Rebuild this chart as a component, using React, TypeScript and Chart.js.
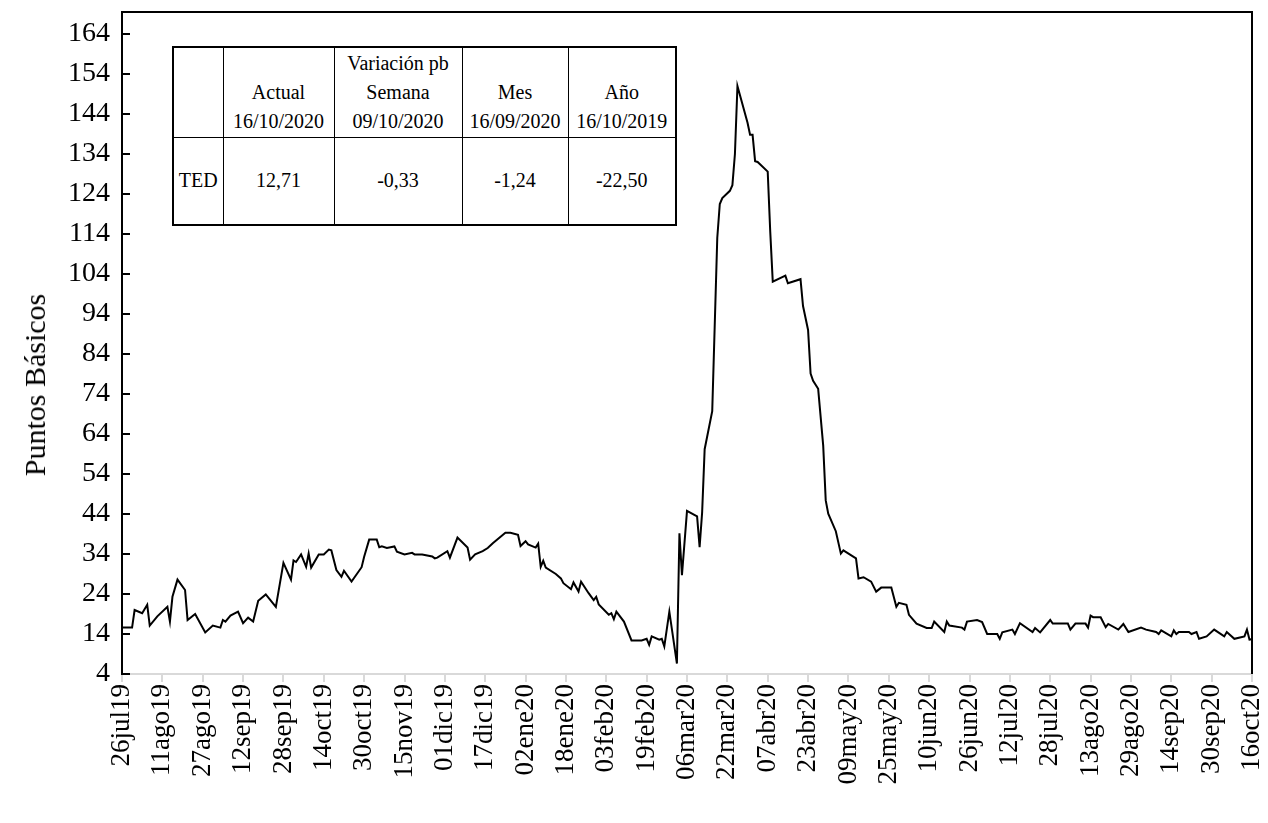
import React, { useEffect, useRef } from "react";
import { Chart, registerables } from "chart.js";
Chart.register(...registerables);

const xTickDays = [0, 16, 32, 48, 64, 80, 96, 112, 128, 144, 160, 176, 192, 208, 224, 240, 256, 272, 288, 304, 320, 336, 352, 368, 384, 400, 416, 432, 448];
const xTickLabels = ["26jul19", "11ago19", "27ago19", "12sep19", "28sep19", "14oct19", "30oct19", "15nov19", "01dic19", "17dic19", "02ene20", "18ene20", "03feb20", "19feb20", "06mar20", "22mar20", "07abr20", "23abr20", "09may20", "25may20", "10jun20", "26jun20", "12jul20", "28jul20", "13ago20", "29ago20", "14sep20", "30sep20", "16oct20"];
const yTickValues = [4, 14, 24, 34, 44, 54, 64, 74, 84, 94, 104, 114, 124, 134, 144, 154, 164];

// days since 26jul19
const dayOffsets = [
  0, 4, 5, 8, 10, 11, 14, 18, 19, 20,
  22, 25, 26, 29, 33, 36, 39, 40, 41, 43,
  46, 48, 50, 52, 54, 57, 61, 64, 67, 68,
  69, 71, 73, 74, 75, 78, 80, 82, 83, 85,
  87, 88, 91, 95, 96, 98, 101, 102, 103, 105,
  108, 109, 112, 115, 116, 119, 123, 124, 125, 129,
  130, 133, 137, 138, 140, 143, 145, 147, 152, 154,
  157, 158, 160, 161, 164, 165, 166, 167, 168, 172,
  174, 175, 178, 179, 181, 182, 185, 187, 188, 189,
  193, 194, 195, 196, 199, 202, 206, 208, 209, 210,
  213, 214, 215, 217, 220, 221, 222, 224, 228, 229,
  230, 231, 234, 236, 237, 238, 241, 242, 243, 244,
  248, 249, 250, 251, 252, 256, 257, 258, 263, 264,
  269, 270, 272, 273, 274, 276, 278, 279, 280, 283,
  285, 286, 291, 292, 294, 297, 299, 301, 305, 307,
  308, 311, 312, 315, 319, 321, 322, 326, 327, 328,
  333, 334, 335, 339, 341, 343, 347, 348, 349, 353,
  354, 356, 361, 362, 364, 368, 369, 375, 376, 378,
  382, 383, 384, 385, 388, 390, 391, 395, 397, 399,
  404, 406, 410, 411, 412, 416, 417, 418, 419, 423,
  424, 426, 427, 430, 433, 437, 438, 441, 445, 446,
  447, 448,
];

const tedValues = [
  15.6, 15.6, 20.0, 19.2, 21.3, 16.1, 18.4, 20.8, 17.1, 23.3,
  27.6, 25.0, 17.5, 19.0, 14.4, 16.1, 15.6, 17.5, 17.1, 18.6,
  19.6, 16.7, 18.1, 17.1, 22.3, 23.9, 20.8, 31.8, 27.6, 32.4,
  32.0, 33.9, 30.8, 34.1, 30.6, 33.9, 33.9, 35.1, 34.9, 30.0,
  28.3, 29.8, 27.1, 30.7, 33.3, 37.6, 37.6, 35.7, 35.9, 35.5,
  35.9, 34.6, 33.9, 34.3, 33.9, 33.9, 33.4, 32.9, 33.1, 34.7,
  33.1, 38.1, 35.6, 32.6, 33.9, 34.7, 35.5, 36.7, 39.3, 39.3,
  38.8, 36.0, 37.2, 36.4, 35.6, 36.6, 30.8, 32.3, 30.6, 29.0,
  27.9, 26.7, 25.2, 26.9, 24.6, 27.1, 24.2, 22.5, 23.3, 21.4,
  18.8, 19.2, 17.7, 19.6, 17.1, 12.4, 12.4, 12.8, 11.3, 13.4,
  12.6, 12.8, 10.9, 19.6, 6.6, 39.2, 28.7, 44.8, 43.4, 35.7,
  44.4, 60.2, 69.7, 113.0, 121.5, 123.0, 124.8, 126.2, 134.0, 151.0,
  141.8, 138.8, 138.8, 132.2, 132.0, 129.6, 114.6, 102.1, 103.6, 101.7,
  102.7, 96.0, 90.0, 79.1, 77.3, 75.3, 61.1, 47.4, 44.1, 39.7,
  34.1, 34.9, 32.9, 27.9, 28.2, 27.1, 24.6, 25.6, 25.6, 20.8,
  21.8, 21.3, 18.8, 16.6, 15.5, 15.5, 17.1, 14.5, 17.1, 16.1,
  15.6, 15.1, 17.1, 17.5, 17.0, 14.0, 14.0, 12.8, 14.4, 15.1,
  14.0, 16.7, 14.5, 15.5, 14.4, 17.5, 16.6, 16.6, 15.1, 16.6,
  16.6, 15.6, 18.6, 18.2, 18.2, 15.7, 16.5, 15.1, 16.5, 14.5,
  15.6, 15.1, 14.5, 14.0, 14.9, 13.4, 14.9, 14.0, 14.5, 14.5,
  14.0, 14.5, 12.8, 13.4, 15.1, 13.4, 14.5, 12.8, 13.4, 15.1,
  12.6, 12.71,
];

const yAxisTitle = "Puntos Básicos";

// summary table
const tableHeaderLines = [
  [],
  ["Actual", "16/10/2020"],
  ["Variación pb", "Semana", "09/10/2020"],
  ["Mes", "16/09/2020"],
  ["Año", "16/10/2019"],
];
const tableRowCells = ["TED", "12,71", "-0,33", "-1,24", "-22,50"];

const SERIF = '"Liberation Serif", "Times New Roman", serif';

const framePlugin = {
  id: "frame",
  afterDraw(chart: any) {
    const { ctx, chartArea, scales } = chart;
    const { left, right, top, bottom } = chartArea;
    const y = scales.y;
    ctx.save();
    ctx.strokeStyle = "#000";
    ctx.lineWidth = 2;
    ctx.beginPath();
    yTickValues.forEach((v) => {
      const py = Math.round(y.getPixelForValue(v));
      ctx.moveTo(left, py);
      ctx.lineTo(left + 8, py);
    });
    ctx.moveTo(left - 1, top);
    ctx.lineTo(right, top);
    ctx.lineTo(right, bottom);
    ctx.stroke();
    ctx.restore();
  },
};

export default function App() {
  const canvasRef = useRef<HTMLCanvasElement | null>(null);

  useEffect(() => {
    if (!canvasRef.current) return;
    const chart = new Chart(canvasRef.current, {
      type: "line",
      data: {
        datasets: [
          {
            label: "TED",
            data: dayOffsets.map((d, i) => ({ x: d, y: tedValues[i] })),
            borderColor: "#000",
            borderWidth: 2,
            pointRadius: 0,
            tension: 0,
            fill: false,
          },
        ],
      },
      options: {
        responsive: false,
        animation: false,
        events: [],
        layout: { padding: { left: 0, top: 12, right: 16, bottom: 0 } },
        plugins: { legend: { display: false }, tooltip: { enabled: false }, title: { display: false } },
        scales: {
          x: {
            type: "linear",
            min: 0,
            max: 448,
            afterBuildTicks: (axis: any) => {
              axis.ticks = xTickDays.map((v) => ({ value: v }));
            },
            afterFit: (axis: any) => {
              axis.height = 149;
              axis.paddingLeft = 0;
              axis.paddingRight = 0;
            },
            ticks: {
              autoSkip: false,
              maxRotation: 90,
              minRotation: 90,
              padding: 2,
              color: "#000",
              font: { family: SERIF, size: 27 },
              callback: (value: any) => {
                const idx = xTickDays.indexOf(Number(value));
                return idx >= 0 ? xTickLabels[idx] : "";
              },
            },
            grid: {
              display: true,
              drawOnChartArea: false,
              drawTicks: true,
              tickLength: 8,
              color: "#d9d9d9",
              lineWidth: 2,
            },
            border: { display: true, color: "#d9d9d9", width: 2 },
          },
          y: {
            type: "linear",
            min: 4,
            max: 169.5,
            afterBuildTicks: (axis: any) => {
              axis.ticks = yTickValues.map((v) => ({ value: v }));
            },
            afterFit: (axis: any) => {
              axis.width = 122;
              axis.paddingTop = 0;
              axis.paddingBottom = 0;
            },
            ticks: {
              padding: 12,
              color: "#000",
              font: { family: SERIF, size: 28 },
            },
            grid: { display: true, drawOnChartArea: false, drawTicks: false },
            border: { display: true, color: "#000", width: 2 },
          },
        },
      },
      plugins: [framePlugin],
    });
    return () => chart.destroy();
  }, []);

  const colWidths = [50, 111, 128, 106, 108];
  const cellBorder = "1.5px solid #000";

  return (
    <div style={{ position: "fixed", left: 0, top: 0, width: 1268, height: 823, background: "#fff" }}>
      <canvas ref={canvasRef} width={1268} height={823} style={{ display: "block" }} />
      <div
        style={{
          position: "absolute",
          left: 35,
          top: 385,
          transform: "translate(-50%, -50%) rotate(-90deg)",
          whiteSpace: "nowrap",
          fontFamily: SERIF,
          fontSize: 30,
          lineHeight: "34px",
          color: "#000",
        }}
      >
        {yAxisTitle}
      </div>
      <table
        style={{
          position: "absolute",
          left: 172,
          top: 46,
          width: 503,
          height: 178,
          borderCollapse: "collapse",
          border: "2px solid #000",
          background: "#fff",
          fontFamily: SERIF,
          fontSize: 20,
          color: "#000",
          tableLayout: "fixed",
        }}
      >
        <colgroup>
          {colWidths.map((w, i) => (
            <col key={i} style={{ width: w }} />
          ))}
        </colgroup>
        <tbody>
          <tr style={{ height: 90 }}>
            {tableHeaderLines.map((lines, i) => (
              <td
                key={i}
                style={{
                  borderLeft: i === 0 ? "none" : cellBorder,
                  borderBottom: "1px solid #000",
                  verticalAlign: "bottom",
                  textAlign: "center",
                  padding: "0 0 1px 0",
                  lineHeight: "29px",
                }}
              >
                {lines.map((t, j) => (
                  <div key={j}>{t}</div>
                ))}
              </td>
            ))}
          </tr>
          <tr style={{ height: 88 }}>
            {tableRowCells.map((t, i) => (
              <td
                key={i}
                style={{
                  borderLeft: i === 0 ? "none" : cellBorder,
                  verticalAlign: "middle",
                  textAlign: "center",
                  padding: 0,
                }}
              >
                {t}
              </td>
            ))}
          </tr>
        </tbody>
      </table>
    </div>
  );
}
